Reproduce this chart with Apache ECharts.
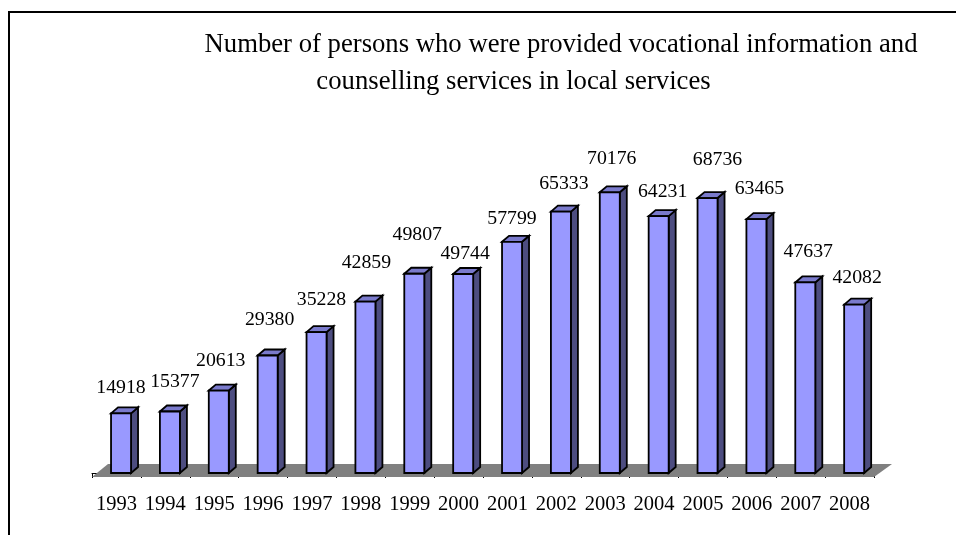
<!DOCTYPE html>
<html><head><meta charset="utf-8">
<style>html,body{margin:0;padding:0;background:#fff}#c{width:956px;height:535px}</style>
<script src="https://cdn.jsdelivr.net/npm/echarts@6/dist/echarts.min.js"></script>
</head><body><div id="c"></div>
<script>
var years = ['1993','1994','1995','1996','1997','1998','1999','2000','2001','2002','2003','2004','2005','2006','2007','2008'];
var persons = [14918,15377,20613,29380,35228,42859,49807,49744,57799,65333,70176,64231,68736,63465,47637,42082];
var titleLine1 = 'Number of persons who were provided vocational information and';
var titleLine2 = 'counselling services in local services';
// hand-placed label offsets from each bar's front top centre, as in the reference
var labelDx = [0,5,2,2,5,1,3,2,0,3,2,4,10,3,3,3];
var labelDy = [-26,-30,-30,-36,-32,-39,-39,-20,-23,-28,-33,-24,-38,-30,-31,-27];

var FONT = '"Liberation Serif","Times New Roman",serif';
var barW = 20, depthX = 7, depthY = 6, barShift = 4.6, floorLift = 4;

var chart = echarts.init(document.getElementById('c'), null, {renderer:'canvas'});
chart.setOption({
  animation:false,
  backgroundColor:'#fff',
  graphic:[
    {type:'rect',shape:{x:9,y:12,width:950,height:530},style:{fill:'none',stroke:'#000',lineWidth:2},silent:true},
    {type:'text',x:561,y:45,style:{text:titleLine1,font:'26.7px '+FONT,fill:'#000',align:'center',verticalAlign:'middle'}},
    {type:'text',x:513.5,y:82,style:{text:titleLine2,font:'26.7px '+FONT,fill:'#000',align:'center',verticalAlign:'middle'}}
  ],
  grid:{left:92,width:782,top:153,height:320},
  xAxis:{type:'category',data:years,offset:4,
    axisLine:{lineStyle:{color:'#000',width:1}},
    axisTick:{show:true,length:5,alignWithLabel:false,lineStyle:{color:'#000'}},
    axisLabel:{color:'#000',fontFamily:FONT,fontSize:20.5,margin:17,interval:0},
    splitLine:{show:false}},
  yAxis:{type:'value',min:0,max:80000,show:false},
  series:[
    {type:'custom',z:1,silent:true,data:[0],
     renderItem:function(p,api){
       var s=p.coordSys, b=s.y+s.height+floorLift;
       return {type:'polygon',shape:{points:[[s.x,b],[s.x+s.width,b],[s.x+s.width+18,b-13],[s.x+16,b-13]]},
               style:{fill:'#808080',stroke:null}};
     }},
    {type:'custom',z:2,silent:true,encode:{x:0,y:1},
     data:persons.map(function(v,i){return [i,v];}),
     renderItem:function(p,api){
       var c=api.coord([api.value(0),api.value(1)]), base=api.coord([api.value(0),0]);
       var i=api.value(0);
       var l=c[0]+barShift-barW/2, r=l+barW, t=c[1], b=base[1];
       var edge={stroke:'#000',lineWidth:1.8,lineJoin:'miter'};
       return {type:'group',children:[
         {type:'polygon',shape:{points:[[r,b],[r+depthX,b-depthY],[r+depthX,t-depthY],[r,t]]},style:Object.assign({fill:'#4D4D80'},edge)},
         {type:'polygon',shape:{points:[[l,t],[l+depthX,t-depthY],[r+depthX,t-depthY],[r,t]]},style:Object.assign({fill:'#7A7ACC'},edge)},
         {type:'rect',shape:{x:l,y:t,width:barW,height:b-t},style:Object.assign({fill:'#9999FF'},edge)},
         {type:'text',x:c[0]+barShift+labelDx[i],y:t+labelDy[i],
          style:{text:String(api.value(1)),font:'19.8px '+FONT,fill:'#000',align:'center',verticalAlign:'middle'}}
       ]};
     }}
  ]
});
</script></body></html>
